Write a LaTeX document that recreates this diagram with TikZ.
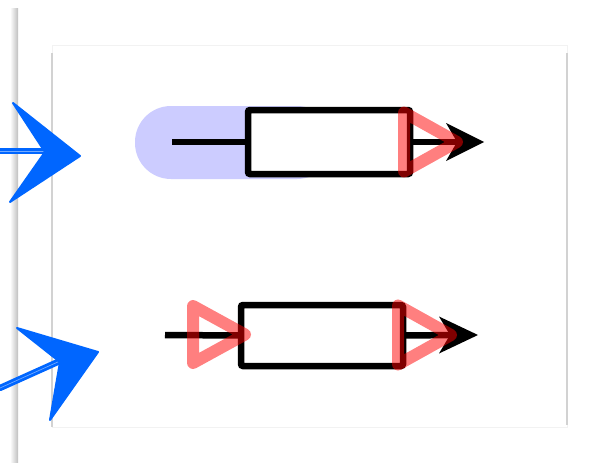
\documentclass[tikz,border=0pt]{standalone}
\usetikzlibrary{calc}
\definecolor{pillc}{HTML}{CCCCFF}
\definecolor{sketchblue}{HTML}{0066FF}
\begin{document}
\begin{tikzpicture}[x=1pt,y=-1pt,
  blk/.style={draw=black, line width=6.5pt},
  boxn/.style={draw=black, line width=6.5pt, fill=white, rounded corners=2pt,
    minimum width=162pt, minimum height=64pt, inner sep=0pt, outer sep=0pt},
  redtri/.style={draw=red, draw opacity=0.5, line width=12pt, line join=round},
  bluehead/.style={fill=sketchblue, draw=sketchblue, line width=2pt, line join=round},
  blueshaft/.style={draw=sketchblue, line width=2.8pt, double=white!45!sketchblue, double distance=0.7pt, line cap=round}
]
\useasboundingbox (0,0) rectangle (590,463);
% left panel edge
\shade[left color=white, right color=gray!50] (10,8) rectangle (18,463);
% card frame
\fill[white] (52,45) rectangle (567,427);
\draw[gray!10, line width=1pt] (52,45) rectangle (567,427);
\draw[gray!35, line width=1.5pt] (52,53) -- (52,427);
\draw[gray!35, line width=1.5pt] (567,53) -- (567,425);

% ---- top row ----
\fill[pillc, rounded corners=36pt] (135,106) rectangle (333,179);
\coordinate (s1) at (172,142);
\coordinate (t1) at (484,142);
\node[boxn] (box1) at (329,142) {};
\draw[blk] (s1) -- (box1.west);
\draw[blk] (box1.east) -- ($(t1)+(-20,0)$);
\fill[black] (t1) -- ++(-38,-19) -- ++(11,19) -- ++(-11,19) -- cycle;
\draw[redtri] (404,112.5) -- (457,142) -- (404,171.5) -- cycle;

% ---- bottom row ----
\coordinate (s2) at (165,335);
\coordinate (t2) at (478,335);
\node[boxn, minimum height=61pt] (box2) at (322,335.5) {};
\draw[blk] (s2) -- (box2.west);
\draw[blk] (box2.east) -- ($(t2)+(-20,0)$);
\fill[black] (t2) -- ++(-39,-18.5) -- ++(11,18.5) -- ++(-11,18.5) -- cycle;
\draw[redtri] (193,306) -- (245,334.5) -- (193,363) -- cycle;
\draw[redtri] (398,305.5) -- (451,335) -- (398,364.5) -- cycle;

% ---- sketchy blue arrows ----
\coordinate (b1a) at (0,151);
\coordinate (b1n) at (44,151);
\draw[blueshaft] (b1a) -- (b1n);
\filldraw[bluehead] (13,103) -- (80,156) -- (10,202) -- (45,152) -- cycle;
\coordinate (b2a) at (0,388);
\coordinate (b2n) at (60,361);
\draw[blueshaft] (b2a) -- (b2n);
\filldraw[bluehead] (17,328) -- (98,352) -- (50,420) -- (60,362) -- cycle;
\end{tikzpicture}
\end{document}
